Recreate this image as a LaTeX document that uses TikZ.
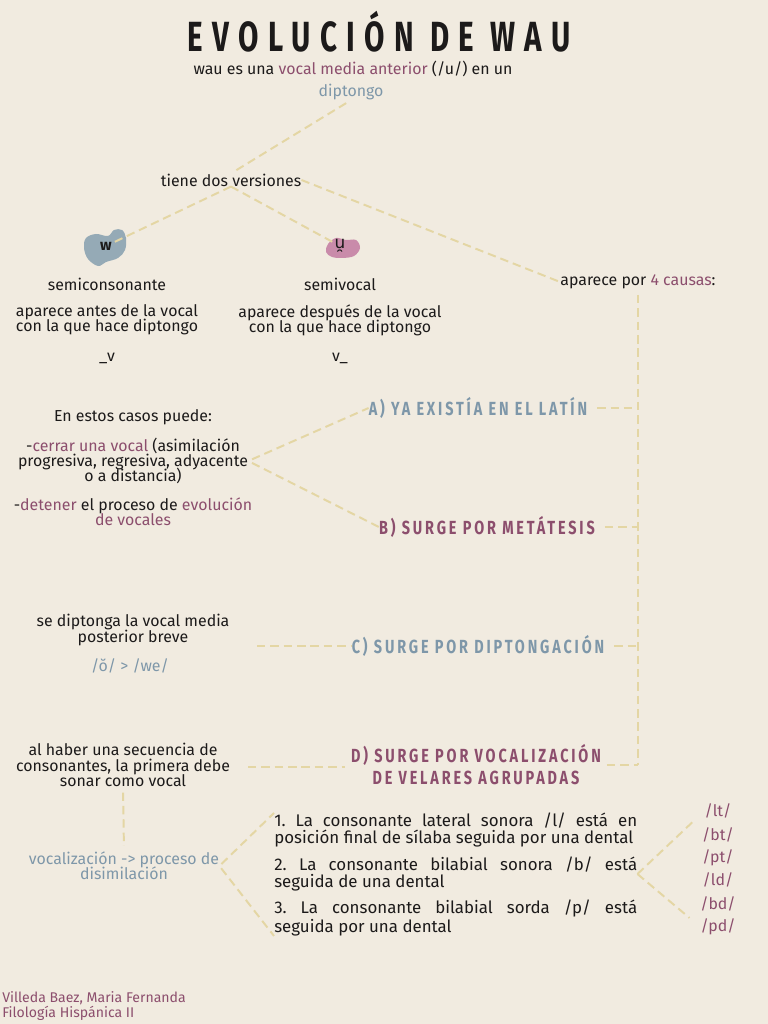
\documentclass[tikz,border=0pt]{standalone}
\usepackage{fontspec}
\setmainfont{Fira Sans}
\newfontfamily\titlefont[FakeStretch=0.7,LetterSpace=22]{Fira Sans}
\newfontfamily\headfont[FakeStretch=0.76,LetterSpace=15]{Fira Sans}
\newfontfamily\symfont{DejaVu Sans}

\definecolor{fondo}{HTML}{F1EBE0}
\definecolor{tinta}{HTML}{1C1A1A}
\definecolor{azulgris}{HTML}{7E97A9}
\definecolor{malva}{HTML}{8C4E6D}
\definecolor{linea}{HTML}{E4D6A4}
\definecolor{manchaazul}{HTML}{95AAB6}
\definecolor{mancharosa}{HTML}{C98BAA}

\begin{document}
\frenchspacing
\lineskiplimit=-20pt
\begin{tikzpicture}[x=0.025cm, y=-0.025cm,
  txt/.style={font=\fontsize{11.3}{10.9}\selectfont, text=tinta,
              align=center, inner sep=0pt},
  cabeza/.style={font=\headfont\bfseries\fontsize{13.5}{15.6}\selectfont,
                 align=center, inner sep=0pt},
  guion/.style={draw=linea, line width=1.4pt, dash pattern=on 6pt off 3.5pt},
  regla/.style={txt, font=\fontsize{12}{11.6}\selectfont, align=justify,
                text width=9.07cm, anchor=west},
  grupo/.style={txt, text=malva},
  ]
\useasboundingbox (0,0) rectangle (768,1024);
\fill[fondo] (0,0) rectangle (768,1024);

% titulo
\node[font=\titlefont\bfseries\fontsize{30}{30}\selectfont, text=tinta, inner sep=0pt,
  anchor=base] (titulo) at (379,52) {EVOLUCIÓN DE WAU};
\node[txt] (intro) at (353,69) {wau es una \textcolor{malva}{vocal media anterior} (/u/) en un};
\node[txt, text=azulgris] (dipt) at (351,92) {diptongo};
\node[txt] (versiones) at (231,180) {tiene dos versiones};

% manchas
\fill[manchaazul] plot[smooth cycle, tension=0.6] coordinates
  {(86,238) (96,234) (108,236) (114,230) (122,230) (126,238) (125,250)
   (118,258) (106,262) (98,266) (88,259) (84,248)};
\fill[mancharosa] plot[smooth cycle, tension=0.6] coordinates
  {(328,244) (336,238) (346,240) (356,240) (360,248) (354,256) (342,258)
   (332,257) (326,252)};
\node[txt, font=\bfseries\fontsize{11}{11}\selectfont] (w) at (106,246) {w};
\node[txt, font=\symfont\fontsize{12}{12}\selectfont] (u) at (340,246) {u̯};

\node[txt] (semicons) at (107,284) {semiconsonante};
\node[txt] (semivoc) at (340,284) {semivocal};
\node[txt] (antes) at (107,320) {aparece antes de la vocal\\con la que hace diptongo};
\node[txt] (despues) at (340,320) {aparece después de la vocal\\con la que hace diptongo};
\node[txt] (vantes) at (107,358) {\_v};
\node[txt] (vdespues) at (340,358) {v\_};

\node[txt] (causas) at (638,282) {aparece por \textcolor{malva}{4 causas}:};

% causas
\node[cabeza, text=azulgris] (A) at (478,408) {A) YA EXISTÍA EN EL LATÍN};
\node[cabeza, text=malva] (B) at (487,527) {B) SURGE POR METÁTESIS};
\node[cabeza, text=azulgris] (C) at (478,646) {C) SURGE POR DIPTONGACIÓN};
\node[cabeza, text=malva] (D) at (476,765) {D) SURGE POR VOCALIZACIÓN\\DE VELARES AGRUPADAS};
\coordinate (tronco) at (638,765);

\node[txt] (casos) at (133,417) {En estos casos puede:};
\node[txt] (cerrar) at (133,461) {-\textcolor{malva}{cerrar una vocal} (asimilación\\
  progresiva, regresiva, adyacente\\o a distancia)};
\node[txt] (detener) at (133,512) {-\textcolor{malva}{detener} el proceso de
  \textcolor{malva}{evolución}\\\textcolor{malva}{de vocales}};

\node[txt] (diptonga) at (133,630) {se diptonga la vocal media\\posterior breve};
\node[txt, text=azulgris] (ow) at (130,666) {/ŏ/ > /we/};
\coordinate (cizq) at (257,646);

\node[txt] (haber) at (123,765) {al haber una secuencia de\\consonantes, la primera debe\\sonar como vocal};
\coordinate (dizq) at (248,767);
\node[txt, text=azulgris] (vocaliz) at (124,866) {vocalización -> proceso de\\disimilación};

% reglas
\node[regla] (r1) at (274,830) {1. La consonante lateral sonora /l/ está en\linebreak
  posición final de sílaba seguida por una dental};
\node[regla] (r2) at (274,874) {2. La consonante bilabial sonora /b/ está\linebreak
  seguida de una dental};
\node[regla] (r3) at (274,918) {3. La consonante bilabial sorda /p/ está\linebreak
  seguida por una dental};

\node[grupo] (lt) at (718,811) {/lt/};
\node[grupo] (bt) at (718,835) {/bt/};
\node[grupo] (pt) at (718,858) {/pt/};
\node[grupo] (ld) at (718,880) {/ld/};
\node[grupo] (bd) at (718,904) {/bd/};
\node[grupo] (pd) at (718,927) {/pd/};

\node[txt, text=malva, anchor=west, align=left, font=\fontsize{10}{10}\selectfont]
  (firma) at (2,1006) {Villeda Baez, Maria Fernanda\\Filología Hispánica II};

% conectores
\draw[guion, shorten <=4pt, shorten >=2pt] (dipt.south) -- (versiones.north);
\draw[guion] (versiones.south) -- (w);
\draw[guion] (versiones.south) -- (u);
\draw[guion, shorten >=1pt] (versiones.east) -- (causas.west);
\draw[guion, shorten <=4pt] (causas.south) -- (tronco);
\foreach \n in {A,B,C}
  \draw[guion, shorten <=7pt] (\n.east) -- (\n.east -| tronco);
\draw[guion, shorten <=4pt] (D.east |- tronco) -- (tronco);
\draw[guion, shorten <=3pt] (cerrar.east) -- (A.west);
\draw[guion, shorten <=3pt] (cerrar.east) -- (B.west);
\draw[guion] (cizq) -- (C.west);
\draw[guion, shorten >=4pt] (dizq) -- (D.west |- dizq);
\draw[guion, shorten <=4pt, shorten >=4pt] (haber.south) -- (vocaliz.north);
\draw[guion, shorten <=2pt] (vocaliz.east) -- (r1.north west);
\draw[guion, shorten <=2pt] (vocaliz.east) -- (r3.south west);
\draw[guion, shorten >=10pt] (r2.east) -- (lt.west);
\draw[guion, shorten >=10pt] (r2.east) -- (pd.west);
\end{tikzpicture}
\end{document}
